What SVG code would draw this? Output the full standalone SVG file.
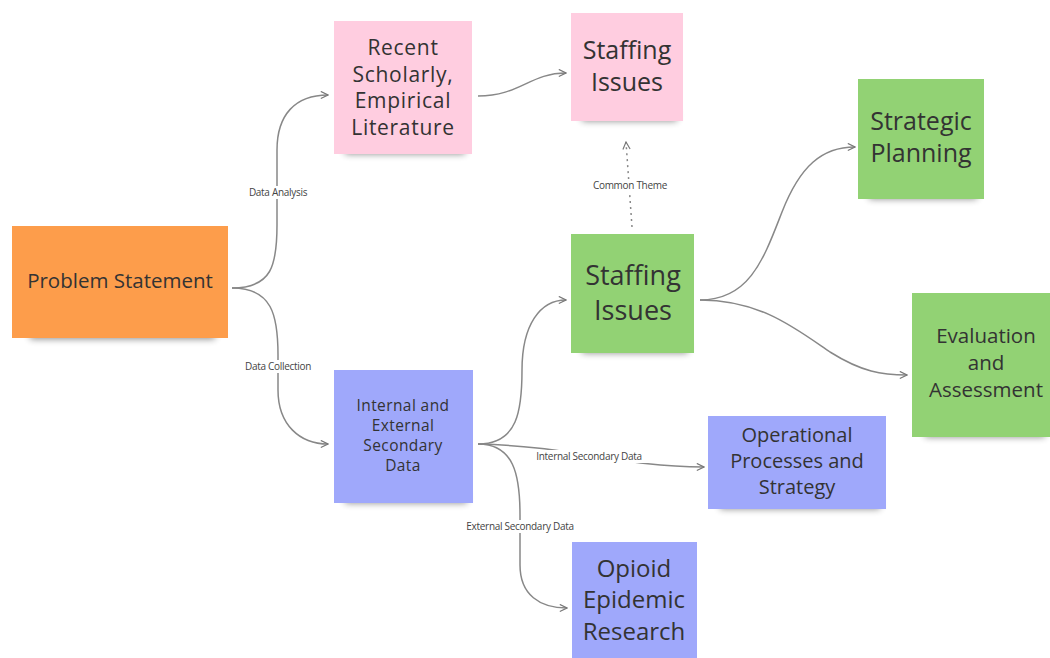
<svg xmlns="http://www.w3.org/2000/svg" width="1050" height="658" viewBox="0 0 1050 658">
<defs>
<filter id="blur" x="-20%" y="-100%" width="140%" height="300%"><feGaussianBlur stdDeviation="3.5"/></filter>
<marker id="arr" viewBox="0 0 10 10" refX="9" refY="5" markerWidth="9" markerHeight="9" markerUnits="userSpaceOnUse" orient="auto"><path d="M1,1 L9,5 L1,9" fill="none" stroke="#777" stroke-width="1.3"/></marker>
</defs>
<style>
.t{font-family:"Open Sans","Noto Sans","Liberation Sans",sans-serif;fill:#333;text-anchor:middle}
.lb{font-family:"Open Sans","Noto Sans","Liberation Sans",sans-serif;fill:#444;font-size:10px;text-anchor:middle;letter-spacing:-0.3px}
.c{fill:none;stroke:#888;stroke-width:1.5}
.sh{fill:#000;opacity:0.45;filter:url(#blur)}
.or{fill:#FD9D4B}.pk{fill:#FFCDE0}.gr{fill:#92D274}.bl{fill:#9FA8FB}
</style>
<rect width="1050" height="658" fill="#fff"/>
<g id="connectors">
<path class="c" d="M232,288 C272,288 277,265 277,225 L277,150 C277,115 295,95 328,95" marker-end="url(#arr)"/>
<path class="c" d="M232,288 C272,288 278,315 278,355 L278,390 C278,425 300,444 328,444" marker-end="url(#arr)"/>
<path class="c" d="M478,96 C520,96 530,73 566,73" marker-end="url(#arr)"/>
<path class="c" d="M632,227 L626,142" stroke-dasharray="2,4" marker-end="url(#arr)"/>
<path class="c" d="M478,444 C518,444 522,410 522,370 C522,325 540,300 566,300" marker-end="url(#arr)"/>
<path class="c" d="M478,444 C570,446 620,467 704,467" marker-end="url(#arr)"/>
<path class="c" d="M478,444 C514,444 520,475 520,515 L520,565 C520,595 540,608 567,608" marker-end="url(#arr)"/>
<path class="c" d="M700,300 C750,300 764,258 782,212 C800,166 822,147 855,147" marker-end="url(#arr)"/>
<path class="c" d="M700,300 C760,300 795,328 830,352 C862,372 882,375 907,375" marker-end="url(#arr)"/>
<rect x="244" y="186" width="68" height="13" fill="#fff"/>
<text class="lb" x="278" y="196">Data Analysis</text>
<rect x="240" y="360" width="76" height="13" fill="#fff"/>
<text class="lb" x="278" y="370">Data Collection</text>
<rect x="528" y="450" width="122" height="13" fill="#fff"/>
<text class="lb" x="589" y="460">Internal Secondary Data</text>
<rect x="457" y="520" width="126" height="13" fill="#fff"/>
<text class="lb" x="520" y="530">External Secondary Data</text>
<rect x="588" y="179" width="84" height="13" fill="#fff"/>
<text class="lb" x="630" y="189">Common Theme</text>
</g>
<g id="problem-statement">
<rect class="sh" x="30" y="327" width="185" height="12"/>
<rect class="or" x="12" y="226" width="216" height="112"/>
<text class="t" x="120" y="288" font-size="20.5">Problem Statement</text>
</g>
<g id="recent-scholarly">
<rect class="sh" x="345" y="143" width="120" height="11"/>
<rect class="pk" x="334" y="21" width="138" height="133"/>
<text class="t" font-size="21" letter-spacing="0.7"><tspan x="403" y="55">Recent</tspan><tspan x="403" y="81.5">Scholarly,</tspan><tspan x="403" y="108">Empirical</tspan><tspan x="403" y="134.5">Literature</tspan></text>
</g>
<g id="staffing-pink">
<rect class="sh" x="582" y="110" width="95" height="11"/>
<rect class="pk" x="571" y="13" width="112" height="108"/>
<text class="t" font-size="25"><tspan x="627" y="59">Staffing</tspan><tspan x="627" y="91">Issues</tspan></text>
</g>
<g id="strategic-planning">
<rect class="sh" x="869" y="188" width="108" height="11"/>
<rect class="gr" x="858" y="79" width="126" height="120"/>
<text class="t" font-size="25"><tspan x="921" y="130">Strategic</tspan><tspan x="921" y="162">Planning</tspan></text>
</g>
<g id="staffing-green">
<rect class="sh" x="582" y="342" width="106" height="11"/>
<rect class="gr" x="571" y="234" width="123" height="119"/>
<text class="t" font-size="27"><tspan x="633" y="285">Staffing</tspan><tspan x="633" y="320">Issues</tspan></text>
</g>
<g id="evaluation">
<rect class="sh" x="925" y="426" width="120" height="11"/>
<rect class="gr" x="912" y="293" width="138" height="144"/>
<text class="t" font-size="20.5"><tspan x="986" y="343">Evaluation</tspan><tspan x="986" y="370">and</tspan><tspan x="986" y="397">Assessment</tspan></text>
</g>
<g id="operational">
<rect class="sh" x="720" y="498" width="160" height="11"/>
<rect class="bl" x="708" y="416" width="178" height="93"/>
<text class="t" font-size="20"><tspan x="797" y="442">Operational</tspan><tspan x="797" y="468">Processes and</tspan><tspan x="797" y="494">Strategy</tspan></text>
</g>
<g id="internal-external">
<rect class="sh" x="345" y="492" width="122" height="11"/>
<rect class="bl" x="334" y="370" width="139" height="133"/>
<text class="t" font-size="15.5" letter-spacing="0.4"><tspan x="403" y="411">Internal and</tspan><tspan x="403" y="431">External</tspan><tspan x="403" y="451">Secondary</tspan><tspan x="403" y="471">Data</tspan></text>
</g>
<g id="opioid">
<rect class="bl" x="572" y="542" width="125" height="120"/>
<text class="t" font-size="24"><tspan x="634" y="577">Opioid</tspan><tspan x="634" y="608">Epidemic</tspan><tspan x="634" y="640">Research</tspan></text>
</g>
</svg>
